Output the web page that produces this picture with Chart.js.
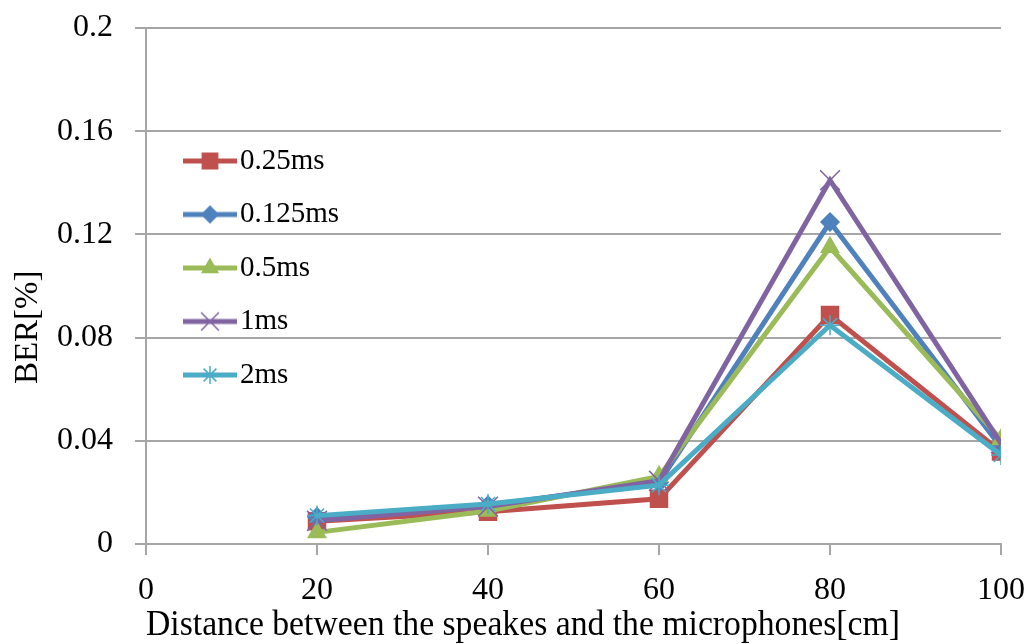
<!DOCTYPE html>
<html>
<head>
<meta charset="utf-8">
<title>BER vs distance</title>
<script src="https://cdn.jsdelivr.net/npm/chart.js@4/dist/chart.umd.min.js"></script>
<style>
  html, body { margin: 0; background: #fff; }
  #wrap { position: relative; width: 1029px; height: 644px; }
</style>
</head>
<body>
<div id="wrap"><canvas id="ber-chart"></canvas></div>
<script>
// distance between speaker and microphone, cm
const distances = [20, 40, 60, 80, 100];
const xTicks = [0, 20, 40, 60, 80, 100];
const yTicks = [0, 0.04, 0.08, 0.12, 0.16, 0.2];

// BER[%] per symbol length
const seriesNames = ['0.25ms', '0.125ms', '0.5ms', '1ms', '2ms'];
const ber025 = [0.0088, 0.0125, 0.0175, 0.0888, 0.0358];
const ber0125 = [0.0105, 0.015, 0.0238, 0.1248, 0.0375];
const ber05 = [0.0045, 0.0128, 0.0262, 0.115, 0.0405];
const ber1 = [0.009, 0.0145, 0.0245, 0.141, 0.039];
const ber2 = [0.011, 0.0155, 0.0228, 0.0848, 0.0345];
const seriesValues = [ber025, ber0125, ber05, ber1, ber2];

const colors = ['#C0504D', '#4F81BD', '#9BBB59', '#8064A2', '#4BACC6'];
const markers = ['rect', 'rectRot', 'triangle', 'crossRot', 'star'];
const markerSizes = [12, 9, 10, 14, 10];

const GRID = '#a6a6a6';
const FONT = "'Liberation Serif', 'Times New Roman', serif";

// line + marker icon for the legend
function legendIcon(i) {
    const c = document.createElement('canvas');
    c.width = 80;
    c.height = 28;
    const ctx = c.getContext('2d');
    ctx.strokeStyle = colors[i];
    ctx.fillStyle = colors[i];
    ctx.lineWidth = 5;
    ctx.beginPath();
    ctx.moveTo(25, 14);
    ctx.lineTo(79, 14);
    ctx.stroke();
    ctx.lineWidth = 1.5;
    Chart.helpers.drawPoint(ctx, {
        pointStyle: markers[i],
        radius: markerSizes[i] * 0.9,
        borderWidth: 1.5,
        rotation: 0
    }, 52, 14);
    return c;
}

// the legend sits inside the plot; push it down a little
const legendNudge = {
    id: 'legendNudge',
    afterLayout(chart) {
        chart.legend.top += 10;
        chart.legend.bottom += 10;
    }
};

const datasets = seriesNames.map((name, i) => ({
    label: name,
    data: distances.map((d, j) => ({ x: d, y: seriesValues[i][j] })),
    borderColor: colors[i],
    backgroundColor: colors[i],
    borderWidth: 5,
    tension: 0,
    pointStyle: markers[i],
    pointRadius: markerSizes[i],
    pointBorderWidth: 1.5,
    order: seriesNames.length - i   // later series drawn on top
}));

new Chart(document.getElementById('ber-chart'), {
    type: 'line',
    data: { datasets: datasets },
    plugins: [legendNudge],
    options: {
        responsive: true,
        maintainAspectRatio: false,
        animation: false,
        layout: { padding: { top: 28, right: 28, bottom: 0, left: 0 } },
        scales: {
            x: {
                type: 'linear',
                min: 0,
                max: 100,
                afterBuildTicks: s => { s.ticks = xTicks.map(v => ({ value: v })); },
                afterFit: s => { s.height = 100; s.paddingLeft = 0; s.paddingRight = 0; },
                grid: { drawOnChartArea: false, drawTicks: true, tickLength: 11, color: GRID, lineWidth: 2 },
                border: { color: GRID, width: 2 },
                ticks: { color: '#000', padding: 16, font: { family: FONT, size: 32 } },
                title: {
                    display: true,
                    text: 'Distance between the speakes and the microphones[cm]            ',
                    color: '#000',
                    padding: 0,
                    font: { family: FONT, size: 36, lineHeight: 1 }
                }
            },
            y: {
                min: 0,
                max: 0.2,
                afterBuildTicks: s => { s.ticks = yTicks.map(v => ({ value: v })); },
                afterFit: s => { s.width = 146; s.paddingTop = 0; s.paddingBottom = 0; },
                grid: { color: GRID, lineWidth: 2, tickLength: 11 },
                border: { color: GRID, width: 2 },
                ticks: {
                    color: '#000',
                    padding: 22,
                    font: { family: FONT, size: 32 },
                    callback: v => String(Number(v.toFixed(2)))
                },
                title: {
                    display: true,
                    text: 'BER[%]          ',
                    color: '#000',
                    padding: { top: 9, bottom: 0 },
                    font: { family: FONT, size: 33 }
                }
            }
        },
        plugins: {
            legend: {
                position: 'chartArea',
                labels: {
                    usePointStyle: true,
                    pointStyleWidth: 55,
                    padding: 24.5,
                    color: '#000',
                    font: { family: FONT, size: 29 },
                    sort: (a, b) => a.datasetIndex - b.datasetIndex,
                    generateLabels: chart => {
                        const items = Chart.defaults.plugins.legend.labels.generateLabels(chart);
                        items.forEach(it => { it.pointStyle = legendIcon(it.datasetIndex); });
                        return items;
                    }
                }
            },
            tooltip: { enabled: false }
        }
    }
});
</script>
</body>
</html>
